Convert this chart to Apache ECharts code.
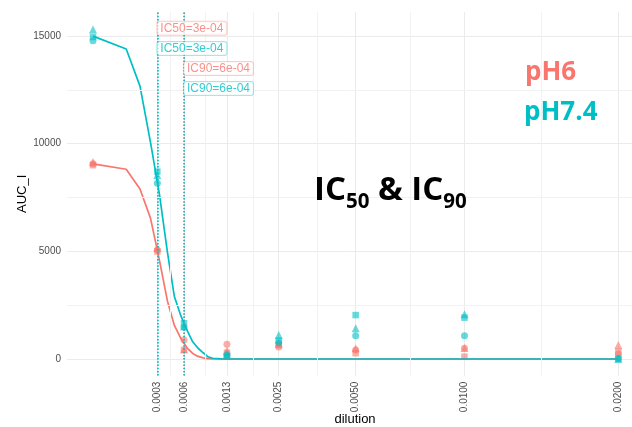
<!DOCTYPE html>
<html>
<head>
<meta charset="utf-8">
<script src="https://cdn.jsdelivr.net/npm/echarts@6/dist/echarts.min.js"></script>
<style>
  html, body { margin: 0; padding: 0; background: #fff; }
  #chart { width: 632px; height: 427px; }
</style>
</head>
<body>
<div id="chart"></div>
<script>
// measured values (x = dilution, y = AUC_I)
const dilutions = [0, 0.0003, 0.0006, 0.0013, 0.0025, 0.005, 0.01, 0.02];

const ph6Circle   = [9060, 5060, 880, 680, 560, 420, 500, 230];
const ph6Triangle = [9150, 5150, 450, 400, 720, 500, 510, 650];
const ph6Square   = [9000, 4990, 420, 290, 650, 270, 110, 340];

const ph74Circle   = [14780, 8160, 1480, 190, 760, 1080, 1080, 30];
const ph74Triangle = [15300, 8540, 1520, 220, 1110, 1430, 2080, 0];
const ph74Square   = [14950, 8700, 1660, 110, 850, 2040, 1920, 10];

// fitted curves
const curveDil = [0, 0.00008, 0.00016, 0.00024, 0.00032, 0.0004, 0.00048, 0.00056,
  0.00064, 0.00072, 0.0008, 0.00088, 0.00096, 0.00104, 0.0012, 0.0016, 0.02];
const ph6Curve  = [9060, 8810, 7890, 6530, 4580, 2720, 1560, 950, 520, 260, 120, 55, 20, 8, 0, 0, 0];
const ph74Curve = [14990, 14390, 12670, 10050, 7640, 5000, 2900, 2000, 1340, 800, 500, 290, 100, 35, 5, 0, 0];

// IC values and labels
const icValues = [0.0003, 0.0006];
const icNames  = ['IC50=3e-04', 'IC50=3e-04', 'IC90=6e-04', 'IC90=6e-04'];
const icDil    = [0.0003, 0.0003, 0.0006, 0.0006];
const icLabelY = [15350, 14420, 13490, 12560];
const icGroup  = ['pH6', 'pH7.4', 'pH6', 'pH7.4'];

const xTicks = [0.0003, 0.0006, 0.0013, 0.0025, 0.005, 0.01, 0.02];
const yTicks = [0, 5000, 10000, 15000];
const yMinor = [2500, 7500, 12500];

const RED = '#F8766D';
const TEAL = '#00BFC4';
const colors = { 'pH6': RED, 'pH7.4': TEAL };

// x axis is square-root scaled
const sx = d => Math.sqrt(d);
const xTickPos = xTicks.map(sx);
const xMinorPos = xTickPos.slice(1).map((v, i) => (v + xTickPos[i]) / 2);

const pts = (vals) => dilutions.map((d, i) => [sx(d), vals[i]]);
const curve = (vals) => curveDil.map((d, i) => [sx(d), vals[i]]);

const pointSeries = (vals, color, symbol, size) => ({
  type: 'scatter',
  data: pts(vals),
  symbol,
  symbolSize: size,
  itemStyle: { color, opacity: 0.6 },
  z: 3
});

const lineSeries = (vals, color) => ({
  type: 'line',
  data: curve(vals),
  showSymbol: false,
  lineStyle: { color, width: 1.7 },
  z: 4
});

const icLineSeries = (color, width) => ({
  type: 'line',
  data: [],
  z: 5,
  markLine: {
    silent: true,
    symbol: 'none',
    precision: 8,
    label: { show: false },
    lineStyle: { color, type: [1.5, 1.7], width },
    data: icValues.map(v => ({ xAxis: sx(v) }))
  }
});

const icLabelSeries = (group) => ({
  type: 'scatter',
  symbolSize: 0,
  z: 6,
  data: icNames
    .map((n, i) => ({ name: n, value: [sx(icDil[i]), icLabelY[i]], g: icGroup[i] }))
    .filter(o => o.g === group)
    .map(o => ({ name: o.name, value: o.value })),
  label: {
    show: true,
    position: 'right',
    distance: 0,
    formatter: '{b}',
    color: colors[group],
    fontSize: 12,
    fontFamily: 'Liberation Sans',
    backgroundColor: '#fff',
    borderColor: group === 'pH6' ? 'rgba(248,118,109,0.45)' : 'rgba(0,191,196,0.45)',
    borderWidth: 1,
    borderRadius: 2,
    padding: [1, 3, 0, 3]
  }
});

const chart = echarts.init(document.getElementById('chart'));
chart.setOption({
  animation: false,
  backgroundColor: '#fff',
  grid: { left: 67, right: 0, top: 12, bottom: 51.4, containLabel: false, outerBoundsMode: 'none' },
  xAxis: {
    type: 'value',
    min: -0.0070,
    max: 0.1451,
    axisLine: { show: false },
    axisTick: { show: false, customValues: xTickPos },
    axisLabel: {
      customValues: xTickPos,
      formatter: v => (v * v).toFixed(4),
      rotate: 90,
      margin: 6,
      fontSize: 10,
      color: '#4d4d4d',
      fontFamily: 'Liberation Sans'
    },
    splitLine: { show: true, lineStyle: { color: '#ebebeb', width: 1 } },
    name: 'dilution',
    nameLocation: 'middle',
    nameMoveOverlap: false,
    nameGap: 37,
    nameTextStyle: { fontSize: 13, color: '#000', fontFamily: 'Liberation Sans', padding: [0, 0, 0, 11] }
  },
  yAxis: {
    type: 'value',
    min: -770,
    max: 16110,
    axisLine: { show: false },
    axisTick: { show: false, customValues: yTicks },
    axisLabel: {
      customValues: yTicks,
      formatter: v => String(v),
      margin: 6,
      fontSize: 10,
      color: '#4d4d4d',
      fontFamily: 'Liberation Sans'
    },
    splitLine: { show: true, lineStyle: { color: '#ebebeb', width: 1 } },
    name: 'AUC_I',
    nameLocation: 'middle',
    nameMoveOverlap: false,
    nameGap: 38,
    nameRotate: 90,
    nameTextStyle: { fontSize: 13, color: '#000', fontFamily: 'Liberation Sans' }
  },
  series: [
    // minor grid lines
    {
      type: 'line',
      data: [],
      z: 1,
      markLine: {
        silent: true,
        symbol: 'none',
        precision: 8,
        label: { show: false },
        lineStyle: { color: '#f2f2f2', type: 'solid', width: 1 },
        data: xMinorPos.map(v => ({ xAxis: v })).concat(yMinor.map(v => ({ yAxis: v })))
      }
    },
    pointSeries(ph6Circle, RED, 'circle', 7),
    pointSeries(ph6Triangle, RED, 'triangle', 8),
    pointSeries(ph6Square, RED, 'rect', 6.5),
    pointSeries(ph74Circle, TEAL, 'circle', 7),
    pointSeries(ph74Triangle, TEAL, 'triangle', 8),
    pointSeries(ph74Square, TEAL, 'rect', 6.5),
    lineSeries(ph6Curve, RED),
    lineSeries(ph74Curve, TEAL),
    icLineSeries(RED, 0.8),
    icLineSeries(TEAL, 1.6),
    icLabelSeries('pH6'),
    icLabelSeries('pH7.4')
  ],
  graphic: [
    {
      type: 'text', x: 525, y: 73, z: 10,
      style: { text: 'pH6', fill: RED, font: 'bold 26px "Open Sans"', verticalAlign: 'middle' }
    },
    {
      type: 'text', x: 524, y: 113, z: 10,
      style: { text: 'pH7.4', fill: TEAL, font: 'bold 26px "Open Sans"', verticalAlign: 'middle' }
    },
    {
      type: 'text', x: 314, y: 174, z: 10,
      style: {
        text: '{a|IC}{s|50}{a| & IC}{s|90}',
        fill: '#000',
        verticalAlign: 'top',
        rich: {
          a: { fontSize: 33, fontWeight: 'bold', fontFamily: 'Open Sans', lineHeight: 33, verticalAlign: 'top', fill: '#000' },
          s: { fontSize: 20.5, fontWeight: 'bold', fontFamily: 'Open Sans', lineHeight: 20, verticalAlign: 'top', padding: [18, 0, 0, 0], fill: '#000' }
        }
      }
    }
  ]
});
</script>
</body>
</html>
